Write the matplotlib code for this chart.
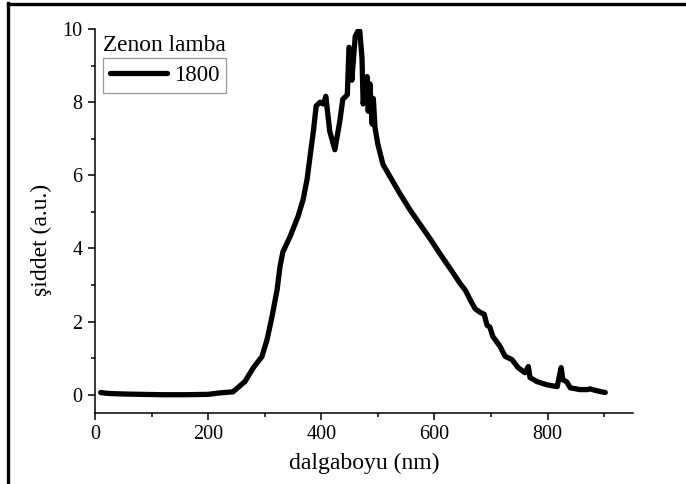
import matplotlib
matplotlib.use("Agg")
import matplotlib.pyplot as plt
from matplotlib.lines import Line2D
from matplotlib.ticker import MultipleLocator

# xenon lamp spectrum, 1800 series
wavelength = [10, 20, 30, 50, 80, 120, 160, 200, 221, 244, 265, 280, 295, 304,
              313, 322, 327, 332, 345, 359, 368, 375, 380, 386, 391, 398, 403,
              405, 408, 415, 424, 433, 438, 446, 449, 452, 454, 456, 460, 465,
              468, 472, 474, 481, 483, 486, 490, 492, 495, 500, 509, 522, 539,
              557, 575, 593, 610, 630, 645, 655, 663, 672, 681, 688, 693, 698,
              703, 716, 725, 737, 748, 760, 766, 769, 781, 799, 817, 824, 827,
              834, 840, 857, 870, 875, 884, 895, 902]
intensity = [0.06, 0.04, 0.03, 0.02, 0.01, 0.0, 0.0, 0.01, 0.05, 0.08, 0.36,
             0.74, 1.04, 1.5, 2.14, 2.88, 3.5, 3.9, 4.33, 4.88, 5.34, 5.9, 6.5,
             7.2, 7.9, 8.0, 7.95, 8.0, 8.16, 7.2, 6.7, 7.5, 8.08, 8.2, 9.5,
             9.4, 8.6, 9.0, 9.8, 9.95, 9.95, 9.2, 7.95, 8.7, 7.75, 8.5, 7.4,
             8.1, 7.3, 6.85, 6.3, 5.95, 5.5, 5.05, 4.65, 4.25, 3.85, 3.4, 3.05,
             2.85, 2.6, 2.35, 2.25, 2.2, 1.9, 1.85, 1.6, 1.32, 1.05, 0.96, 0.74,
             0.6, 0.77, 0.47, 0.36, 0.27, 0.22, 0.74, 0.41, 0.35, 0.19, 0.14,
             0.14, 0.16, 0.12, 0.08, 0.06]
series_label = "1800"
legend_title = "Zenon lamba"

plt.rcParams["font.family"] = ["Liberation Serif", "DejaVu Serif"]

fig = plt.figure(figsize=(6.86, 4.84), dpi=100)
ax = fig.add_axes([0.1385, 0.1467, 0.7842, 0.7933])

ax.plot(wavelength, intensity, color="black", linewidth=3.8,
        solid_joinstyle="round", solid_capstyle="round", label=series_label)

ax.set_xlim(0, 951)
ax.set_ylim(-0.5, 10)
ax.xaxis.set_major_locator(MultipleLocator(200))
ax.xaxis.set_minor_locator(MultipleLocator(100))
ax.yaxis.set_major_locator(MultipleLocator(2))
ax.yaxis.set_minor_locator(MultipleLocator(1))
ax.tick_params(which="major", direction="out", length=5, width=1.1,
               labelsize=14.5, pad=4)
ax.tick_params(which="minor", direction="out", length=3, width=1.1)

for side in ("top", "right"):
    ax.spines[side].set_visible(False)
for side in ("left", "bottom"):
    ax.spines[side].set_linewidth(1.1)

ax.set_xlabel("dalgaboyu (nm)", fontsize=17, labelpad=6)
ax.set_ylabel("şiddet (a.u.)", fontsize=17)
ax.yaxis.set_label_coords(-0.08, 0.45)

ax.text(0.014, 0.985, legend_title, transform=ax.transAxes, fontsize=16.8,
        va="top", ha="left")
leg = ax.legend(loc="upper left", bbox_to_anchor=(0.015, 0.925),
                fontsize=16.5, frameon=True, fancybox=False, handlelength=2.5,
                handletextpad=0.3, borderpad=0.3, borderaxespad=0)
leg.get_frame().set_edgecolor("#808080")
leg.get_frame().set_linewidth(0.9)

# frame lines along the top and left edges of the figure
fig.add_artist(Line2D([8 / 686, 8 / 686], [0, 1 - 3 / 484], color="black",
                      linewidth=2.4, transform=fig.transFigure))
fig.add_artist(Line2D([8 / 686, 1], [1 - 4 / 484, 1 - 4 / 484], color="black",
                      linewidth=2.4, transform=fig.transFigure))

fig.savefig("out.png", dpi=100)
